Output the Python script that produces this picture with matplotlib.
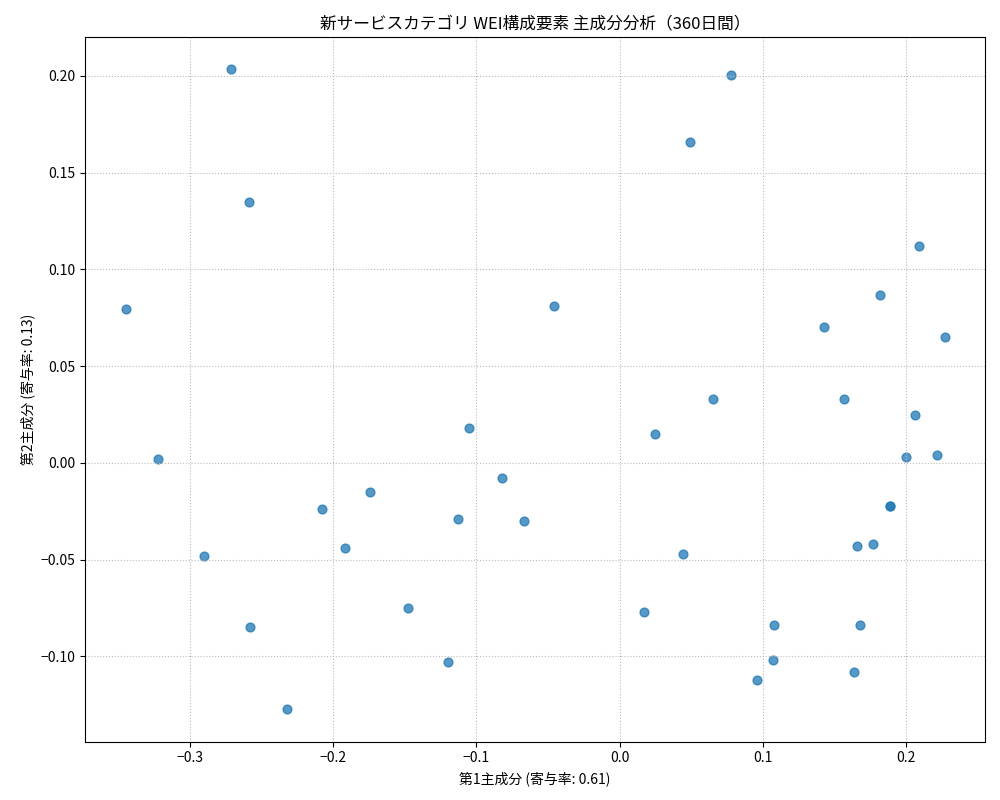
import matplotlib
matplotlib.use("Agg")
import matplotlib.pyplot as plt

plt.rcParams['font.family'] = ['Noto Sans CJK JP', 'DejaVu Sans']

pc1 = [-0.345, -0.271, -0.259, -0.322, -0.290, -0.258, -0.232, -0.208, -0.192, -0.174,
       -0.148, -0.120, -0.113, -0.105, -0.082, -0.067, -0.046, 0.017, 0.025, 0.044,
       0.049, 0.065, 0.078, 0.096, 0.107, 0.108, 0.143, 0.157, 0.164, 0.166,
       0.168, 0.177, 0.182, 0.189, 0.189, 0.200, 0.206, 0.209, 0.222, 0.227]
pc2 = [0.0797, 0.2037, 0.135, 0.002, -0.048, -0.085, -0.127, -0.024, -0.044, -0.015,
       -0.075, -0.103, -0.029, 0.018, -0.008, -0.030, 0.081, -0.077, 0.015, -0.047,
       0.166, 0.033, 0.2005, -0.112, -0.102, -0.084, 0.070, 0.033, -0.108, -0.043,
       -0.084, -0.042, 0.087, -0.022, -0.022, 0.003, 0.025, 0.112, 0.004, 0.065]

fig, ax = plt.subplots(figsize=(10, 8), dpi=100)
ax.scatter(pc1, pc2, color='tab:blue', alpha=0.75, s=40)
ax.set_xlim(-0.3733, 0.2552)
ax.set_ylim(-0.144, 0.2202)
ax.grid(True, linestyle=':', color='#bbbbbb')
ax.set_title('新サービスカテゴリ WEI構成要素 主成分分析（360日間）')
ax.set_xlabel('第1主成分 (寄与率: 0.61)')
ax.set_ylabel('第2主成分 (寄与率: 0.13)')
fig.subplots_adjust(left=0.085, right=0.985, top=0.954, bottom=0.073)
fig.savefig('out.png')
